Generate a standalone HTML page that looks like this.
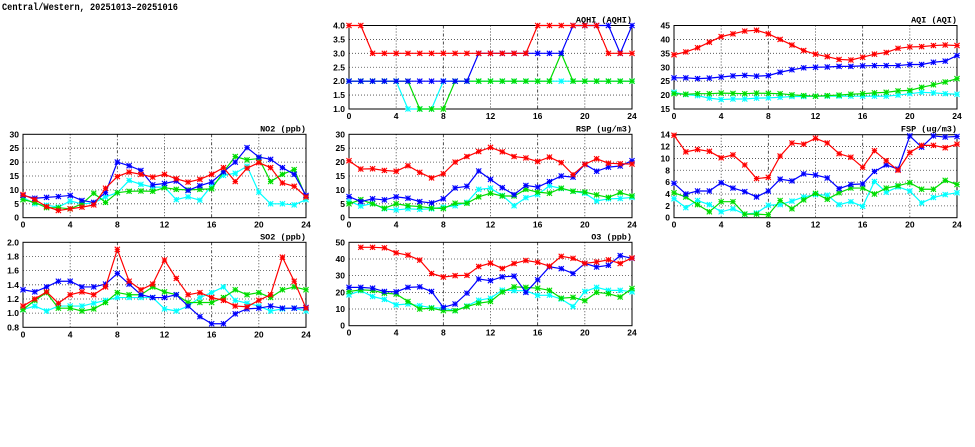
<!DOCTYPE html>
<html><head><meta charset="utf-8">
<style>
html,body{margin:0;padding:0;background:#fff;}
svg{display:block;}
</style></head>
<body>
<svg id="chart" width="975" height="447" xmlns="http://www.w3.org/2000/svg">
<text x="2" y="10" font-family="Liberation Mono, monospace" font-weight="bold" font-size="10" textLength="176" lengthAdjust="spacingAndGlyphs">Central/Western, 20251013–20251016</text>
</svg>
<script>
const hours = [0,1,2,3,4,5,6,7,8,9,10,11,12,13,14,15,16,17,18,19,20,21,22,23,24];
const xTicks = [0,4,8,12,16,20,24];
const seriesColors = ['#00ffff','#00dd00','#0000ff','#ff0000'];
const seriesNames = ['cyan','green','blue','red'];

const aqhiCyan  = [2,2,2,2,2,1,1,1,2,2,2,2,2,2,2,2,2,2,2,2,2,2,2,2,2];
const aqhiGreen = [2,2,2,2,2,2,1,1,1,2,2,2,2,2,2,2,2,2,3,2,2,2,2,2,2];
const aqhiBlue  = [2,2,2,2,2,2,2,2,2,2,2,3,3,3,3,3,3,3,3,4,4,4,4,3,4];
const aqhiRed   = [4,4,3,3,3,3,3,3,3,3,3,3,3,3,3,3,4,4,4,4,4,4,3,3,3];
const aqhiTicks = [1.0,1.5,2.0,2.5,3.0,3.5,4.0];

const aqiCyan  = [21,20.2,19.8,18.9,18.4,18.6,18.6,18.9,19,19.2,19.5,19.5,19.6,19.6,19.6,19.6,19.6,19.6,19.6,20,20.5,21,20.8,20.5,20.3];
const aqiGreen = [20.5,20.3,20.5,20.5,20.7,20.6,20.5,20.7,20.6,20.5,20.1,19.8,19.6,19.8,20,20.3,20.5,20.8,21,21.5,21.7,22.8,23.7,24.7,25.9];
const aqiBlue  = [26.2,26.2,25.9,26.1,26.5,26.9,27.1,26.8,27,28.2,29.1,29.8,30,30.1,30.3,30.3,30.5,30.6,30.6,30.6,31,31,31.8,32.2,34.2];
const aqiRed   = [34.5,35.5,37,39,41,42,43,43.3,42,40,38,36,34.7,33.8,32.8,32.6,33.6,34.7,35.3,36.8,37.3,37.4,37.8,38,37.8];
const aqiTicks = [15,20,25,30,35,40,45];

const no2Cyan  = [7.3,5,4.5,3.8,6,5,5.3,7.5,9,13.4,12,11,11,6.5,7.5,6.3,11.5,15.2,16,18.5,9.2,5,5,4.6,6.5];
const no2Green = [6.5,5.5,3.6,3.6,3.2,5,8.8,5.5,9,9.5,9.6,9.5,10.8,10.2,10,10.2,10.4,16.5,22,20.8,21.3,13,15.6,17.3,7.5];
const no2Blue  = [8,7,7.3,7.6,8,6.2,5.5,9,20,18.7,17,11.8,12.3,13.2,9.8,11.5,12.8,16.5,20,25.2,21.8,21,18,15.6,8];
const no2Red   = [8.3,6.5,4,2.6,3.2,3.8,4.6,10.6,14.8,16.4,15.6,14.6,15.6,14,12.8,13.8,15.6,18,13,17.8,19.8,18,12.5,11.3,7.5];
const no2Ticks = [0,5,10,15,20,25,30];

const rspCyan  = [6,4.2,5.1,3.2,2.8,3.2,3,3.2,3.8,4.3,5.5,10.2,10.6,8,4.3,7.2,8.3,11.5,10.5,9.5,8.8,6,6.8,6.9,7.3];
const rspGreen = [5,6.5,5,3.4,5,4.3,4,3.5,3.3,5.2,5.2,7.5,8.8,7.8,7.8,10.2,9.2,8.8,10.6,9.5,9.2,8.2,7.3,9,7.8];
const rspBlue  = [7.6,5.8,6.8,6.4,7.5,7,5.8,5.3,6.8,10.7,11.3,16.8,13.8,10.8,8.3,11.6,11,13,15,14.6,19.2,16.7,18.2,18.6,20.5];
const rspRed   = [20.5,17.5,17.6,17,16.7,18.7,16.3,14.3,15.8,20,22,23.8,25.3,23.7,22,21.5,20.2,21.8,19.8,15.5,19.2,21.2,19.6,19.4,19.3];
const rspTicks = [0,5,10,15,20,25,30];

const fspCyan  = [3.2,1.7,2.9,2.2,1,1.5,0.6,0.8,2.1,2.2,2.8,3.5,3.9,3.8,2.2,2.7,1.9,6.1,4.3,5.2,4.5,2.5,3.4,3.9,4.2];
const fspGreen = [4.2,3.5,2.2,1,2.7,2.7,0.6,0.6,0.5,2.9,1.5,3,4.1,3.1,4.2,5,5,4,5,5.4,5.9,4.8,4.8,6.3,5.6];
const fspBlue  = [5.8,4,4.5,4.5,5.9,5,4.4,3.5,4.5,6.5,6.2,7.4,7.2,6.7,4.9,5.6,5.7,7.8,8.9,8.2,13.8,11.9,13.8,13.6,13.7];
const fspRed   = [13.9,11.1,11.5,11.2,10.1,10.6,8.9,6.6,6.8,10.4,12.6,12.4,13.4,12.6,10.8,10.2,8.5,11.3,9.6,8,11,12.2,12.2,11.8,12.4];
const fspTicks = [0,2,4,6,8,10,12,14];

const so2Cyan  = [1.05,1.1,1.03,1.1,1.1,1.1,1.14,1.18,1.22,1.22,1.22,1.22,1.06,1.03,1.1,1.22,1.29,1.37,1.18,1.14,1.1,1.03,1.06,1.07,1.03];
const so2Green = [1.05,1.18,1.29,1.07,1.07,1.03,1.06,1.15,1.29,1.26,1.26,1.37,1.3,1.26,1.15,1.15,1.15,1.22,1.33,1.26,1.29,1.22,1.33,1.37,1.33];
const so2Blue  = [1.33,1.3,1.37,1.45,1.45,1.37,1.37,1.41,1.56,1.41,1.26,1.22,1.22,1.26,1.1,0.95,0.85,0.85,0.99,1.06,1.07,1.1,1.07,1.07,1.08];
const so2Red   = [1.1,1.2,1.3,1.14,1.26,1.3,1.26,1.37,1.9,1.45,1.33,1.41,1.75,1.49,1.26,1.29,1.22,1.18,1.1,1.09,1.18,1.26,1.79,1.45,1.07];
const so2Ticks = [0.8,1.0,1.2,1.4,1.6,1.8,2.0];

const o3Cyan  = [18.5,21,17.5,15.8,12.5,13,12,10.8,10.5,9,11.8,15.3,16.5,21.3,21,21,18.2,18.3,16,11.5,20.5,23,21.2,21.2,20.3];
const o3Green = [20.5,21.5,21.2,19.5,19,14.5,10,10.5,9,9,11.5,13.5,14.5,20.2,23.3,23,22.5,21.2,16.5,17,15,20,19.2,17.2,22.3];
const o3Blue  = [23,23,22.5,20.5,20.3,23,23.3,20.5,11,13,19.5,28,27,29.3,29.7,20,27.5,35.3,34.2,31.3,37.3,35.2,36.2,42,40.4];
const o3Red   = [null,47,47,46.7,43.7,42.3,39.3,31.3,29.2,30,30.2,35.5,37.5,34.3,37.3,39.1,38,35.7,41.6,40.4,37.4,38.2,39.5,37.3,40.6];
const o3Ticks = [0,10,20,30,40,50];

const panels = [
  {id:'aqhi', title:'AQHI (AQHI)', x0:349, x1:632, yt:25.5, yb:109, ticks:aqhiTicks, fmt:1, series:[aqhiCyan,aqhiGreen,aqhiBlue,aqhiRed]},
  {id:'aqi',  title:'AQI (AQI)',   x0:674, x1:957, yt:25.5, yb:109, ticks:aqiTicks, fmt:0, series:[aqiCyan,aqiGreen,aqiBlue,aqiRed]},
  {id:'no2',  title:'NO2 (ppb)',   x0:23,  x1:306, yt:134.3, yb:217.7, ticks:no2Ticks, fmt:0, series:[no2Cyan,no2Green,no2Blue,no2Red]},
  {id:'rsp',  title:'RSP (ug/m3)', x0:349, x1:632, yt:134.3, yb:217.7, ticks:rspTicks, fmt:0, series:[rspCyan,rspGreen,rspBlue,rspRed]},
  {id:'fsp',  title:'FSP (ug/m3)', x0:674, x1:957, yt:134.7, yb:217.7, ticks:fspTicks, fmt:0, series:[fspCyan,fspGreen,fspBlue,fspRed]},
  {id:'so2',  title:'SO2 (ppb)',   x0:23,  x1:306, yt:242.3, yb:327.3, ticks:so2Ticks, fmt:1, series:[so2Cyan,so2Green,so2Blue,so2Red]},
  {id:'o3',   title:'O3 (ppb)',    x0:349, x1:632, yt:242.3, yb:325.7, ticks:o3Ticks, fmt:0, series:[o3Cyan,o3Green,o3Blue,o3Red]}
];

const NS = 'http://www.w3.org/2000/svg';
const svg = document.getElementById('chart');
function mk(tag, attrs, parent){
  const e = document.createElementNS(NS, tag);
  for (const k in attrs) e.setAttribute(k, attrs[k]);
  (parent||svg).appendChild(e);
  return e;
}
const FONT = 'Liberation Sans, sans-serif';

panels.forEach(p => {
  const g = mk('g', {});
  
  
  const ymin = p.ticks[0], ymax = p.ticks[p.ticks.length-1];
  const xs = v => p.x0 + (v/24)*(p.x1-p.x0);
  const ys = v => p.yb - (v-ymin)/(ymax-ymin)*(p.yb-p.yt);
  // grid
  p.ticks.forEach(t => {
    if (t===ymin || t===ymax) return;
    const l = mk('line', {x1:p.x0, x2:p.x1, y1:ys(t), y2:ys(t), stroke:'#444', 'stroke-width':0.8, 'stroke-dasharray':'1,2'}, g);
    
    
  });
  xTicks.forEach(t => {
    if (t===0 || t===24) return;
    const l = mk('line', {x1:xs(t), x2:xs(t), y1:p.yt, y2:p.yb, stroke:'#222', 'stroke-width':0.8, 'stroke-dasharray':(t%8===4?'1,2':'3,2,1,2')}, g);
    
    
  });
  // frame
  const fr = mk('rect', {x:p.x0, y:p.yt, width:p.x1-p.x0, height:p.yb-p.yt, fill:'none', stroke:'#000', 'stroke-width':1}, g);
  
  
  // y ticks labels
  p.ticks.forEach(t => {
    const tx = mk('text', {x:p.x0-4, y:ys(t)+3, 'text-anchor':'end', 'font-family':FONT, 'font-weight':'bold', 'font-size':8.5}, g);
    tx.textContent = t.toFixed(p.fmt);
    
    
  });
  xTicks.forEach(t => {
    const tx = mk('text', {x:xs(t), y:p.yb+10, 'text-anchor':'middle', 'font-family':FONT, 'font-weight':'bold', 'font-size':8.5}, g);
    tx.textContent = String(t);
    
    
  });
  const tt = mk('text', {x:p.x1, y:p.yt-3, 'text-anchor':'end', 'font-family':'Liberation Mono, monospace', 'font-weight':'bold', 'font-size':8.5}, g);
  tt.textContent = p.title;
  
  
  // series
  p.series.forEach((vals, si) => {
    const col = seriesColors[si];
    const sg = mk('g', {}, g);
    
    
    let d = '', pen = false;
    vals.forEach((v, i) => {
      if (v === null) { pen = false; return; }
      d += (pen ? 'L' : 'M') + xs(hours[i]).toFixed(2) + ',' + ys(v).toFixed(2);
      pen = true;
    });
    const path = mk('path', {d:d, fill:'none', stroke:col, 'stroke-width':1.2}, sg);
    
    
    vals.forEach((v, i) => {
      if (v === null) return;
      const cx = xs(hours[i]), cy = ys(v), r = 2.6;
      const m = mk('path', {d:`M${cx-r},${cy-r}L${cx+r},${cy+r}M${cx-r},${cy+r}L${cx+r},${cy-r}M${cx-r},${cy}L${cx+r},${cy}M${cx},${cy-r}L${cx},${cy+r}`, stroke:col, 'stroke-width':1.1, fill:'none'}, sg);
      
      
    });
  });
});
</script>
</body></html>
